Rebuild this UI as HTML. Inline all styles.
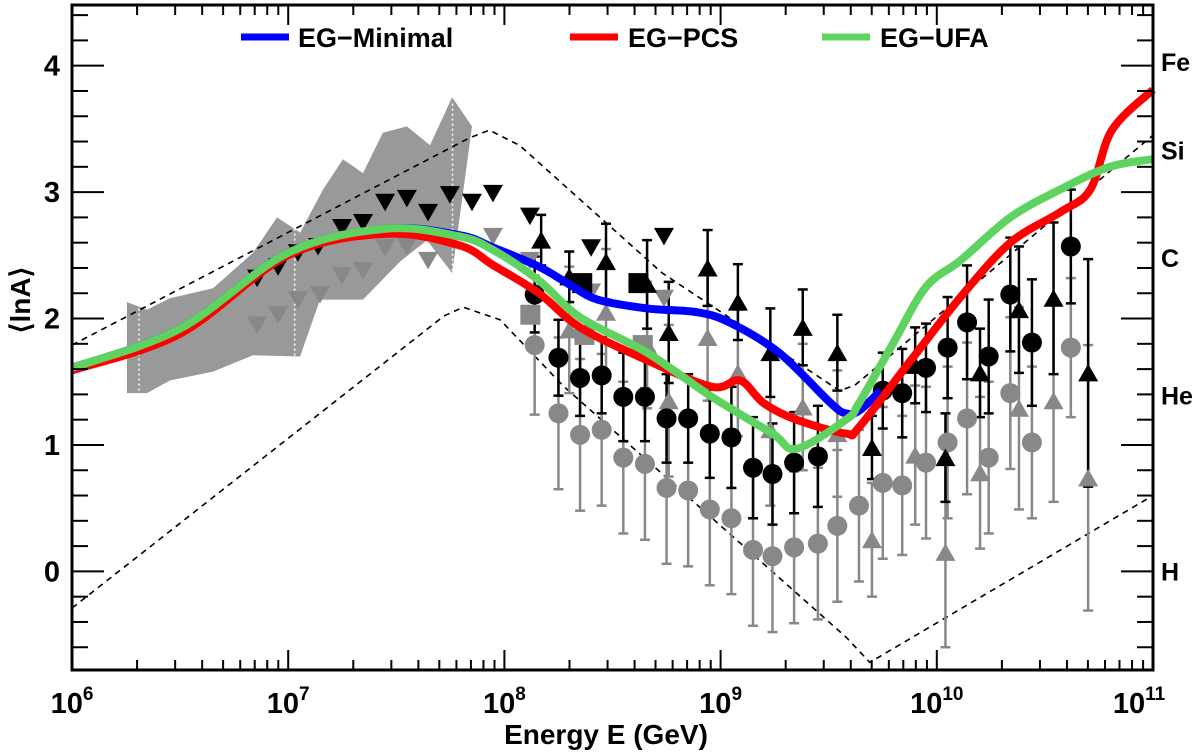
<!DOCTYPE html>
<html><head><meta charset="utf-8">
<style>
html,body{margin:0;padding:0;background:#fff;}
svg{display:block;font-family:"Liberation Sans",sans-serif;font-weight:bold;}
</style></head>
<body>
<svg id="chart" width="1200" height="754" viewBox="0 0 1200 754" xmlns="http://www.w3.org/2000/svg">
<rect x="0" y="0" width="1200" height="754" fill="#fff"/>
<g id="band"></g>
<g id="dashed"></g>
<g id="points"></g>
<g id="curves"></g>
<g id="axes"></g>
<g>
 <line x1="241" y1="37" x2="289" y2="37" stroke="#0000ff" stroke-width="7"/>
 <text x="298" y="47" font-size="27">EG−Minimal</text>
 <line x1="570" y1="37" x2="618" y2="37" stroke="#ff0000" stroke-width="7"/>
 <text x="628" y="47" font-size="27">EG−PCS</text>
 <line x1="822" y1="37" x2="870" y2="37" stroke="#5fd35f" stroke-width="7"/>
 <text x="880" y="47" font-size="27">EG−UFA</text>
</g>
<text transform="translate(30,300) rotate(-90)" text-anchor="middle" font-size="28">⟨lnA⟩</text>
<text x="606" y="744" text-anchor="middle" font-size="28">Energy E (GeV)</text>
</svg>
<script>
// ---- data ----
const xMinLog = 6, xMaxLog = 11, yMin = -0.78, yMax = 4.48;
const xTickLogs = [6,7,8,9,10,11];
const yTicks = [0,1,2,3,4];
const elementLabels = ["Fe","Si","C","He","H"];
const elementLnA = [4.03,3.33,2.48,1.39,0];

const minimalLogE = [6.0,6.5,7.0,7.45,7.79,7.95,8.16,8.3,8.43,8.66,8.89,9.04,9.27,9.51,9.58,9.64,9.74];
const minimalLnA  = [1.61,1.92,2.52,2.71,2.66,2.56,2.41,2.27,2.15,2.08,2.05,1.97,1.73,1.33,1.25,1.27,1.43];
const pcsLogE = [6.0,6.5,7.0,7.45,7.79,7.95,8.16,8.35,8.66,8.96,9.09,9.20,9.35,9.58,9.64,9.88,10.11,10.34,10.57,10.71,10.81,11.0];
const pcsLnA  = [1.59,1.88,2.50,2.67,2.58,2.42,2.20,1.93,1.67,1.46,1.51,1.33,1.20,1.09,1.14,1.67,2.17,2.60,2.84,3.02,3.49,3.81];
const ufaLogE = [6.0,6.5,7.0,7.45,7.79,7.95,8.16,8.35,8.66,8.96,9.24,9.35,9.58,9.64,9.80,9.95,10.11,10.34,10.57,10.80,11.0];
const ufaLnA  = [1.61,1.92,2.52,2.71,2.65,2.54,2.30,2.01,1.73,1.38,1.09,0.97,1.20,1.33,1.81,2.25,2.46,2.80,3.02,3.20,3.26];

const upperDashLogE = [6.0,7.84,7.93,8.07,8.73,9.55,9.62,10.42,11.0];
const upperDashLnA  = [1.79,3.43,3.49,3.37,2.36,1.43,1.47,2.62,3.45];
const lowerDashLogE = [6.0,7.72,7.81,7.98,8.27,9.58,9.69,11.0];
const lowerDashLnA  = [-0.29,2.02,2.09,1.99,1.47,-0.52,-0.72,0.60];

const bandLogE = [6.254,6.347,6.453,6.652,6.837,6.948,7.055,7.161,7.253,7.346,7.438,7.549,7.656,7.758,7.850,7.758,7.642,7.517,7.346,7.147,7.055,6.837,6.652,6.453,6.347,6.254];
const bandLnA  = [2.13,2.07,2.16,2.24,2.52,2.80,2.68,3.02,3.26,3.15,3.47,3.52,3.37,3.75,3.52,2.36,2.62,2.45,2.15,2.15,1.70,1.71,1.58,1.51,1.41,1.41];

const blackDownLogE = [6.856,6.953,7.045,7.138,7.249,7.346,7.448,7.549,7.647,7.748,7.850,7.947,8.118,8.401,8.738];
const blackDownLnA  = [2.32,2.41,2.52,2.57,2.72,2.76,2.92,2.95,2.84,2.98,2.92,2.99,2.81,2.56,2.65];
const greyDownLogE = [6.856,6.953,7.045,7.147,7.249,7.346,7.448,7.549,7.647,7.947,8.118,8.401,8.738];
const greyDownLnA  = [1.95,2.03,2.15,2.19,2.34,2.38,2.56,2.57,2.46,2.65,2.46,2.21,2.16];

const blackUpLogE = [8.17,8.30,8.47,8.66,8.76,8.94,9.08,9.23,9.38,9.54,9.70,9.90,10.04,10.20,10.38,10.54,10.70];
const blackUpLnA  = [2.62,2.33,2.45,2.27,1.89,2.40,2.13,1.73,1.93,1.73,0.98,1.63,0.90,1.57,2.07,2.16,1.57];
const blackUpErr  = [0.2,0.2,0.3,0.35,0.4,0.3,0.3,0.35,0.3,0.3,0.25,0.3,0.35,0.35,0.5,0.6,0.9];
const greyUpLogE = [8.30,8.47,8.66,8.76,8.94,9.08,9.23,9.38,9.54,9.70,9.90,10.04,10.20,10.38,10.54,10.70];
const greyUpLnA  = [1.91,2.05,1.79,1.35,1.85,1.57,1.12,1.30,1.09,0.25,0.92,0.15,0.78,1.29,1.35,0.74];
const greyUpErr  = [0.5,0.5,0.5,0.6,0.5,0.5,0.6,0.5,0.5,0.45,0.55,0.75,0.6,0.8,0.8,1.05];

const blackDotLogE = [8.14,8.25,8.35,8.45,8.55,8.65,8.75,8.85,8.95,9.05,9.15,9.24,9.34,9.45,9.75,9.84,9.95,10.05,10.14,10.24,10.34,10.44,10.62];
const blackDotLnA  = [2.19,1.69,1.53,1.55,1.38,1.38,1.21,1.21,1.09,1.06,0.82,0.77,0.86,0.91,1.43,1.41,1.61,1.77,1.97,1.70,2.19,1.81,2.57];
const blackDotErr  = [0.3,0.3,0.3,0.3,0.35,0.35,0.35,0.35,0.35,0.4,0.4,0.4,0.4,0.4,0.3,0.35,0.35,0.4,0.45,0.45,0.45,0.5,0.45];
const greyDotLogE = [8.14,8.25,8.35,8.45,8.55,8.65,8.75,8.85,8.95,9.05,9.15,9.24,9.34,9.45,9.54,9.64,9.75,9.84,9.95,10.05,10.14,10.24,10.34,10.44,10.62];
const greyDotLnA  = [1.79,1.25,1.08,1.12,0.90,0.85,0.66,0.64,0.49,0.42,0.17,0.12,0.19,0.22,0.36,0.52,0.70,0.68,0.86,1.02,1.21,0.90,1.41,1.02,1.77];
const greyDotErr  = [0.55,0.6,0.6,0.6,0.6,0.6,0.6,0.6,0.6,0.6,0.6,0.6,0.6,0.6,0.6,0.6,0.6,0.55,0.6,0.6,0.6,0.6,0.6,0.6,0.55];

const blackSqLogE = [8.36,8.62];
const blackSqLnA  = [2.28,2.28];
const greySqLogE = [8.12,8.37,8.64];
const greySqLnA  = [2.03,1.87,1.79];

// ---- scales ----
const L=72, R=1153, T=5, B=670;
function xs(l){return L+(l-xMinLog)/(xMaxLog-xMinLog)*(R-L);}
function ys(v){return B-(v-yMin)/(yMax-yMin)*(B-T);}
const NS="http://www.w3.org/2000/svg";
function mk(tag,parent,attrs){const e=document.createElementNS(NS,tag);for(const k in attrs)e.setAttribute(k,attrs[k]);parent.appendChild(e);return e;}
function pts(xa,ya){return xa.map((x,i)=>xs(x).toFixed(1)+","+ys(ya[i]).toFixed(1)).join(" ");}
function smoothPath(xa,ya){
  const P=xa.map((x,i)=>[xs(x),ys(ya[i])]);
  let d="M"+P[0][0]+","+P[0][1];
  for(let i=0;i<P.length-1;i++){
    const p0=P[Math.max(0,i-1)],p1=P[i],p2=P[i+1],p3=P[Math.min(P.length-1,i+2)];
    const c1=[p1[0]+(p2[0]-p0[0])/6,p1[1]+(p2[1]-p0[1])/6];
    const c2=[p2[0]-(p3[0]-p1[0])/6,p2[1]-(p3[1]-p1[1])/6];
    d+=" C"+c1[0]+","+c1[1]+" "+c2[0]+","+c2[1]+" "+p2[0]+","+p2[1];
  }
  return d;
}

// band
const band=document.getElementById('band');
const bp=mk('polygon',band,{points:pts(bandLogE,bandLnA),fill:'#999999'});


[6.31,7.03,7.76].forEach(l=>{
  const wl=mk('line',band,{x1:xs(l),x2:xs(l),y1:ys(3.7),y2:ys(1.35),stroke:'#fff','stroke-width':1.5,'stroke-dasharray':'2 3'});
  
  
});

// dashed
const dg=document.getElementById('dashed');
const du=mk('polyline',dg,{points:pts(upperDashLogE,upperDashLnA),fill:'none',stroke:'#000','stroke-width':1.6,'stroke-dasharray':'6 5'});


const dl=mk('polyline',dg,{points:pts(lowerDashLogE,lowerDashLnA),fill:'none',stroke:'#000','stroke-width':1.6,'stroke-dasharray':'6 5'});



// points
const pg=document.getElementById('points');
function errbar(x,y,e,col){
  const X=xs(x);
  const g=mk('g',pg,{});
  
  
  mk('line',g,{x1:X,x2:X,y1:ys(y+e),y2:ys(y-e),stroke:col,'stroke-width':2.5});
  mk('line',g,{x1:X-5,x2:X+5,y1:ys(y+e),y2:ys(y+e),stroke:col,'stroke-width':2.5});
  mk('line',g,{x1:X-5,x2:X+5,y1:ys(y-e),y2:ys(y-e),stroke:col,'stroke-width':2.5});
}
function tri(x,y,col,down,name){
  const X=xs(x),Y=ys(y),s=10;
  const p=down?`${X-s},${Y-s*0.85} ${X+s},${Y-s*0.85} ${X},${Y+s*0.9}`:`${X-s},${Y+s*0.85} ${X+s},${Y+s*0.85} ${X},${Y-s*0.9}`;
  const e=mk('polygon',pg,{points:p,fill:col});
  
  
}
function dot(x,y,col,name){
  const e=mk('circle',pg,{cx:xs(x),cy:ys(y),r:10,fill:col});
  
  
}
function sq(x,y,col,name){
  const e=mk('rect',pg,{x:xs(x)-10,y:ys(y)-10,width:20,height:20,fill:col});
  
  
}
const G='#888888';
greyDotLogE.forEach((x,i)=>errbar(x,greyDotLnA[i],greyDotErr[i],G));
greyUpLogE.forEach((x,i)=>errbar(x,greyUpLnA[i],greyUpErr[i],G));
blackDotLogE.forEach((x,i)=>errbar(x,blackDotLnA[i],blackDotErr[i],'#000'));
blackUpLogE.forEach((x,i)=>errbar(x,blackUpLnA[i],blackUpErr[i],'#000'));
greyDotLogE.forEach((x,i)=>dot(x,greyDotLnA[i],G,'grey-circle-point'));
greyUpLogE.forEach((x,i)=>tri(x,greyUpLnA[i],G,false,'grey-up-triangle-point'));
greySqLogE.forEach((x,i)=>sq(x,greySqLnA[i],G,'grey-square-point'));
greyDownLogE.forEach((x,i)=>tri(x,greyDownLnA[i],G,true,'grey-down-triangle-point'));
blackDotLogE.forEach((x,i)=>dot(x,blackDotLnA[i],'#000','black-circle-point'));
blackUpLogE.forEach((x,i)=>tri(x,blackUpLnA[i],'#000',false,'black-up-triangle-point'));
blackSqLogE.forEach((x,i)=>sq(x,blackSqLnA[i],'#000','black-square-point'));
blackDownLogE.forEach((x,i)=>tri(x,blackDownLnA[i],'#000',true,'black-down-triangle-point'));

// curves
const cg=document.getElementById('curves');
const c1=mk('path',cg,{d:smoothPath(minimalLogE,minimalLnA),fill:'none',stroke:'#0000ff','stroke-width':8,'stroke-linejoin':'round'});


const c2=mk('path',cg,{d:smoothPath(pcsLogE,pcsLnA),fill:'none',stroke:'#ff0000','stroke-width':8,'stroke-linejoin':'round'});


const c3=mk('path',cg,{d:smoothPath(ufaLogE,ufaLnA),fill:'none',stroke:'#5fd35f','stroke-width':8,'stroke-linejoin':'round'});



// axes
const ax=document.getElementById('axes');
const fr=mk('rect',ax,{x:L,y:T,width:R-L,height:B-T,fill:'none',stroke:'#000','stroke-width':3});


for(let d=xMinLog;d<xMaxLog;d++){
  for(let m=2;m<=9;m++){
    const X=xs(d+Math.log10(m));
    mk('line',ax,{x1:X,x2:X,y1:B,y2:B-10,stroke:'#000','stroke-width':2});
    mk('line',ax,{x1:X,x2:X,y1:T,y2:T+10,stroke:'#000','stroke-width':2});
  }
}
xTickLogs.forEach(l=>{
  const X=xs(l);
  mk('line',ax,{x1:X,x2:X,y1:B,y2:B-20,stroke:'#000','stroke-width':2});
  mk('line',ax,{x1:X,x2:X,y1:T,y2:T+20,stroke:'#000','stroke-width':2});
  const t=mk('text',ax,{x:X+(l===11?-14:0),y:B+43,'text-anchor':'middle','font-size':29});
  
  
  t.textContent='10';
  const s=mk('tspan',t,{dy:-13,'font-size':19});
  s.textContent=String(l);
});
for(let v=-0.6;v<=4.41;v+=0.2){
  const Y=ys(v);const major=Math.abs(v-Math.round(v))<0.01;
  const len=major?32:16;
  mk('line',ax,{x1:L,x2:L+len,y1:Y,y2:Y,stroke:'#000','stroke-width':2});
  mk('line',ax,{x1:R,x2:R-len,y1:Y,y2:Y,stroke:'#000','stroke-width':2});
}
yTicks.forEach(v=>{
  const t=mk('text',ax,{x:60,y:ys(v)+10,'text-anchor':'end','font-size':29});
  
  
  t.textContent=String(v);
});
elementLabels.forEach((s,i)=>{
  const t=mk('text',ax,{x:1161,y:ys(elementLnA[i])+9,'font-size':25});
  
  
  t.textContent=s;
});
</script>
</body></html>
